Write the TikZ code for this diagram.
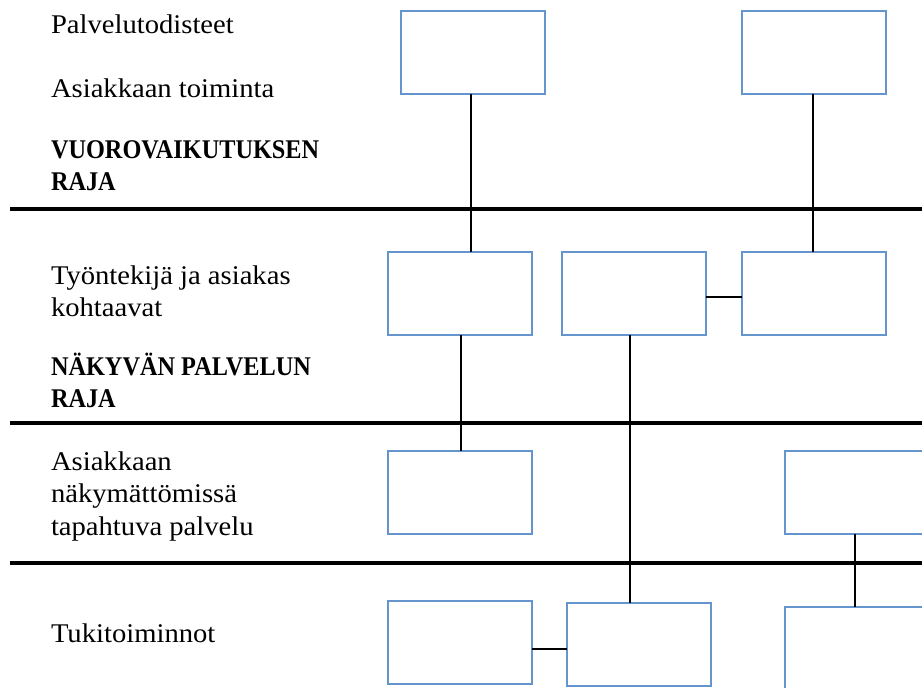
\documentclass[tikz,border=0pt]{standalone}
\usepackage{fontspec}
\setmainfont{Liberation Serif}[FakeStretch=1.06, BoldFeatures={FakeStretch=0.9}]
\definecolor{boxblue}{RGB}{100,149,205}
\newcommand{\mylines}[1]{\begin{tabular}[t]{@{}l@{}}#1\end{tabular}}
\begin{document}
\begin{tikzpicture}[x=1pt,y=-1pt,
  box/.style={draw=boxblue, line width=2pt, minimum width=144pt, minimum height=83pt, inner sep=0pt, outer sep=0pt, fill=white},
  conn/.style={draw=black, line width=2pt},
  bound/.style={draw=black, line width=4pt},
  lbl/.style={anchor=base west, inner sep=0pt, outer sep=0pt, font=\fontsize{27}{32.5}\selectfont}]
\useasboundingbox (0,0) rectangle (922,688);
\clip (0,0) rectangle (922,688);
% boundary lines
\coordinate (l1a) at (10,208.7); \coordinate (l1b) at (922,208.7);
\coordinate (l2a) at (10,423.3); \coordinate (l2b) at (922,423.3);
\coordinate (l3a) at (10,562.7); \coordinate (l3b) at (922,562.7);
\draw[bound] (l1a) -- (l1b);
\draw[bound] (l2a) -- (l2b);
\draw[bound] (l3a) -- (l3b);
% labels
\node[lbl] (t1) at (51,33) {Palvelutodisteet};
\node[lbl] (t2) at (51,97) {Asiakkaan toiminta};
\node[lbl] (t3) at (51,158) {\mylines{\bfseries VUOROVAIKUTUKSEN\\\bfseries RAJA}};
\node[lbl] (t4) at (51,284) {\mylines{Työntekijä ja asiakas\\kohtaavat}};
\node[lbl] (t5) at (51,375) {\mylines{\bfseries NÄKYVÄN PALVELUN\\\bfseries RAJA}};
\node[lbl] (t6) at (51,470) {\mylines{Asiakkaan\\näkymättömissä\\tapahtuva palvelu}};
\node[lbl] (t7) at (51,642) {Tukitoiminnot};
% boxes
\node[box] (A) at (472.5,52) {};
\node[box] (B) at (814,52) {};
\node[box] (C) at (460,293.5) {};
\node[box] (D) at (633.5,293.5) {};
\node[box] (E) at (814,293.5) {};
\node[box] (F) at (460,492) {};
\node[box] (G) at (857,492) {};
\node[box] (H) at (460,642) {};
\node[box] (I) at (639,644) {};
\node[box] (J) at (857,648) {};
% connectors
\draw[conn] ([xshift=-1.5pt]A.south) -- ([xshift=-1.5pt]A.south |- C.north);
\draw[conn] ([xshift=-1pt]B.south) -- ([xshift=-1pt]B.south |- E.north);
\draw[conn] ([xshift=0.5pt]C.south) -- ([xshift=0.5pt]C.south |- F.north);
\draw[conn] ([xshift=-3.5pt]D.south) -- ([xshift=-3.5pt]D.south |- I.north);
\draw[conn] ([yshift=-3.5pt]D.east) -- ([yshift=-3.5pt]D.east -| E.west);
\draw[conn] ([yshift=-6.5pt]H.east) -- ([yshift=-6.5pt]H.east -| I.west);
\draw[conn] ([xshift=-2pt]G.south) -- ([xshift=-2pt]G.south |- J.north);
\end{tikzpicture}
\end{document}
